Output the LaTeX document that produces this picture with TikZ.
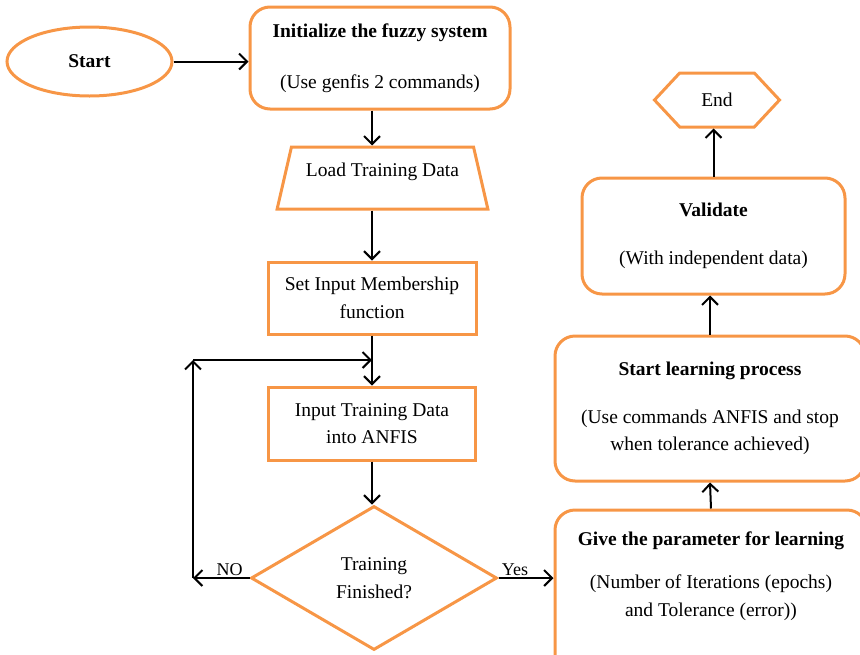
\documentclass[tikz,border=0pt]{standalone}
\usepackage{fontspec}
\setmainfont{Liberation Serif}
\usepackage{xcolor}
\usepackage{tikz}
\usetikzlibrary{shapes,shapes.geometric,shapes.symbols,arrows.meta,positioning,calc}
\definecolor{boxorange}{RGB}{247,150,70}
\tikzset{
    flow/.style={draw=boxorange, line width=3pt, align=center, inner sep=0pt, font=\fontsize{19.5}{27.5}\selectfont},
    roundbox/.style={flow, rounded corners=20pt},
    arr/.style={-{Straight Barb[length=8pt,width=16pt]}, line width=2pt},
    lbl/.style={font=\fontsize{18}{20}\selectfont, inner sep=1pt}
}

\begin{document}
\begin{tikzpicture}[x=1pt,y=-1pt]
        \clip (0,0) rectangle (860,654);

        \node[flow, ellipse, minimum width=165pt, minimum height=69pt] (start) at (89.5,61.5) {\textbf{Start}};
        \node[roundbox, minimum width=260pt, minimum height=102pt] (init) at (380,58) {\textbf{Initialize the fuzzy system}\\[24pt](Use genfis 2 commands)};
        \node[flow, trapezium, trapezium angle=77, inner xsep=14.5pt, inner ysep=10pt, text height=19.5pt, text depth=22.5pt] (load) at (382.5,178) {Load Training Data};
        \node[flow, minimum width=208pt, minimum height=72pt] (set) at (372,298) {Set Input Membership\\function};
        \node[flow, minimum width=207pt, minimum height=73pt] (input) at (372,423.5) {Input Training Data\\into ANFIS};
        \node[flow, diamond, minimum width=246pt, minimum height=144pt] (dec) at (374,578) {Training\\Finished?};

        \node[roundbox, minimum width=312pt, minimum height=180pt] (give) at (711,600) {};
        \node[align=center, inner sep=0pt, font=\fontsize{19.5}{27.5}\selectfont] (givetext) at (711,576) {\textbf{Give the parameter for learning}\\[15.5pt](Number of Iterations (epochs)\\and Tolerance (error))};
        \node[roundbox, minimum width=310pt, minimum height=145pt] (learn) at (710,408.5) {\textbf{Start learning process}\\[20pt](Use commands ANFIS and stop\\when tolerance achieved)};
        \node[roundbox, minimum width=263pt, minimum height=116pt] (valid) at (713.5,236) {\textbf{Validate}\\[21pt](With independent data)};
        \node[flow, signal, signal to=east and west, signal pointer angle=94, minimum width=125pt, minimum height=54pt] (end) at (717,100) {End};

        \coordinate (nocorner) at (193,578);
        \coordinate (looptop) at (193,360);
        \coordinate (loopin) at (set.south |- looptop);

        \draw[arr] (start.east) -- (start.east -| init.west);
        \draw[arr] (init.south -| set.north) -- (load.north -| set.north);
        \draw[arr] (load.south -| set.north) -- (set.north);
        \draw[arr] (set.south) -- (input.north);
        \draw[arr] (input.south) -- (input.south |- dec.north);
        \draw[arr] (dec.west) -- node[lbl, above, pos=0.35] (no) {NO} (nocorner);
        \draw[arr] (nocorner) -- (looptop);
        \draw[arr] (looptop) -- (loopin);
        \draw[arr] (dec.east) -- node[lbl, above, pos=0.3] (yes) {Yes} (dec.east -| give.west);
        \draw[arr] (give.north) -- (learn.south);
        \draw[arr] (learn.north) -- (learn.north |- valid.south);
        \draw[arr] (valid.north) -- (valid.north |- end.south);
\end{tikzpicture}
\end{document}
